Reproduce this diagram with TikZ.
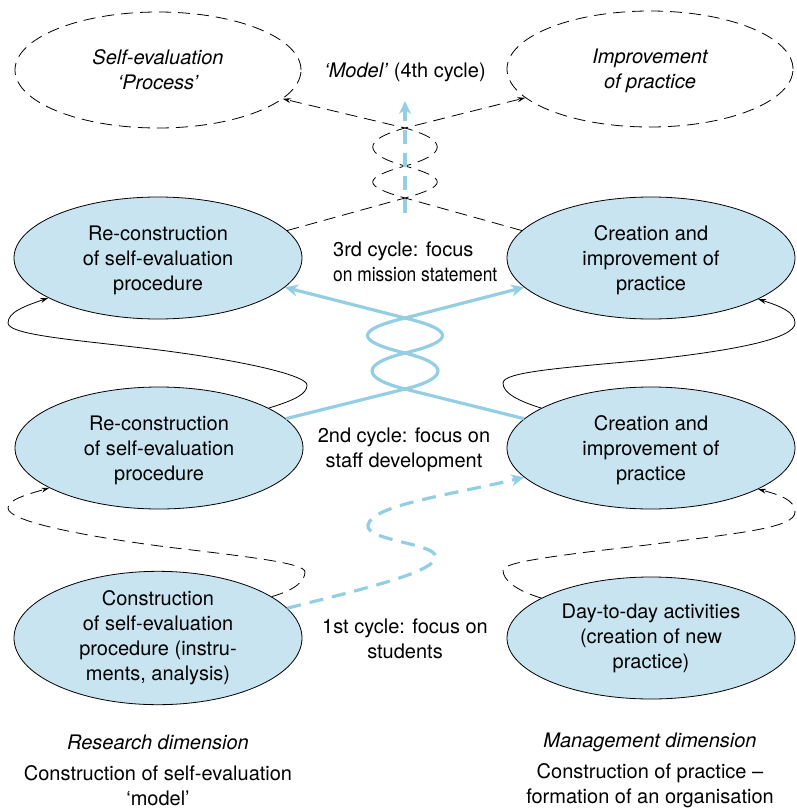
\documentclass[tikz,border=0pt]{standalone}
\usepackage{fontspec}
\usepackage{graphicx}
\setmainfont{TeX Gyre Heros}
\usetikzlibrary{shapes.geometric,arrows.meta}
\definecolor{cellfill}{RGB}{200,228,240}
\definecolor{flow}{RGB}{148,206,226}
\begin{document}
\begin{tikzpicture}[x=1pt,y=-1pt,
  every node/.style={font=\fontsize{20}{25}\selectfont},
  itlabel/.style={font=\fontsize{20}{25}\selectfont\itshape},
  caption/.style={align=center, inner sep=0pt, text depth=0pt},
  stage/.style={ellipse, draw=black, line width=0.8pt, fill=cellfill,
    minimum width=288pt, minimum height=122pt, inner sep=0pt, align=center},
  lowtext/.style={text depth=0pt},
  goal/.style={ellipse, draw=black, line width=0.8pt, dash pattern=on 12pt off 7pt,
    minimum width=286pt, minimum height=116pt, inner sep=0pt, align=center,
    text depth=0pt, font=\fontsize{20}{25}\selectfont\itshape},
  smalltip/.style={-{Stealth[length=8pt,width=5pt]}},
  cyclearc/.style={line width=0.8pt, smalltip},
  dashcyclearc/.style={cyclearc, dash pattern=on 12pt off 7pt},
  blueflow/.style={draw=flow, line width=3.2pt, -{Stealth[length=13pt,width=12pt]}},
  bluedash/.style={blueflow, dash pattern=on 14pt off 9pt},
]
\useasboundingbox (0,0) rectangle (796,809);

% outcome ellipses
\node[goal] (tl) at (158,70) {Self-evaluation\\‘Process’};
\node[goal] (tr) at (650,69) {Improvement\\of practice};
\node (model) at (405,72) {\textit{‘Model’} (4th cycle)};

% research dimension
\node[stage, lowtext] (l3) at (158,258) {Re-construction\\of self-evaluation\\procedure};
\node[stage, lowtext] (l2) at (159,448) {Re-construction\\of self-evaluation\\procedure};
\node[stage] (l1) at (158,638) {Construction\\of self-evaluation\\procedure (instru-\\ments, analysis)};

% management dimension
\node[stage, lowtext] (r3) at (651,258) {Creation and\\improvement of\\practice};
\node[stage, lowtext] (r2) at (651,448) {Creation and\\improvement of\\practice};
\node[stage] (r1) at (651,638) {Day-to-day activities\\(creation of new\\practice)};

% cycle labels
\node[align=left, anchor=west, inner sep=0pt] (c3) at (333,262)
  {3rd cycle: focus\\\scalebox{0.87}[1]{on mission statement}};
\node[align=center] (c2) at (404,450) {2nd cycle: focus on\\staff development};
\node[align=center] (c1) at (405,639) {1st cycle: focus on\\students};

% dimension captions
\node[itlabel] (resdim) at (158,742) {Research dimension};
\node[caption] (resmodel) at (158,786) {Construction of self-evaluation\\‘model’};
\node[itlabel] (mgmtdim) at (650,742) {Management dimension};
\node[caption] (mgmtorg) at (650,784) {Construction of practice --\\formation of an organisation};

% side loops: solid between 2nd and 3rd cycle, dashed between 1st and 2nd
\draw[cyclearc] (l2.20) .. controls (295,400) and (307,394) .. (307,385)
  .. controls (307,376) and (250,362) .. (167,351)
  .. controls (90,341) and (8,336) .. (8,323)
  .. controls (8,312) and (25,306) .. (l3.200);
\draw[dashcyclearc] (l1.20) .. controls (295,590) and (305,581) .. (305,572)
  .. controls (305,563) and (250,557) .. (167,547)
  .. controls (90,537) and (8,522) .. (8,508)
  .. controls (8,500) and (25,495) .. (l2.200);
\draw[cyclearc] (r2.160) .. controls (515,400) and (503,392) .. (503,383)
  .. controls (503,372) and (560,368) .. (647,360)
  .. controls (740,350) and (795,338) .. (795,323)
  .. controls (795,312) and (780,306) .. (r3.-21);
\draw[dashcyclearc] (r1.160) .. controls (515,590) and (503,580) .. (503,570)
  .. controls (503,562) and (560,555) .. (647,545)
  .. controls (740,533) and (795,528) .. (795,512)
  .. controls (795,500) and (780,495) .. (r2.-21);

% 1st cycle
\draw[bluedash] (l1.13) .. controls (380,585) and (440,570) .. (435,555)
  .. controls (430,543) and (365,540) .. (368,525)
  .. controls (372,505) and (450,495) .. (r2.193);

% 2nd cycle: twisted pair
\coordinate (ba) at (405,389);
\coordinate (bb) at (405,353);
\coordinate (bc) at (405,318);
\draw[blueflow] (l2.13) -- (ba) .. controls (449,378) and (449,364) .. (bb)
  .. controls (355,341) and (355,330) .. (bc) -- (r3.193);
\draw[blueflow] (r2.167) -- (ba) .. controls (361,378) and (361,364) .. (bb)
  .. controls (455,341) and (455,330) .. (bc) -- (l3.-13);

% 3rd cycle: dashed twisted pair
\coordinate (ta) at (405,198);
\coordinate (tb) at (405,166);
\coordinate (tc) at (405,128);
\draw[dashcyclearc] (l3.12) -- (ta) .. controls (448,186) and (448,178) .. (tb)
  .. controls (362,154) and (362,140) .. (tc) -- (tr.193);
\draw[dashcyclearc] (r3.168) -- (ta) .. controls (362,186) and (362,178) .. (tb)
  .. controls (448,154) and (448,140) .. (tc) -- (tl.-13);

% 4th cycle
\coordinate (mbase) at (405,213);
\coordinate (mtop) at (405,101);
\draw[bluedash] (mbase) -- (mtop);
\end{tikzpicture}
\end{document}
